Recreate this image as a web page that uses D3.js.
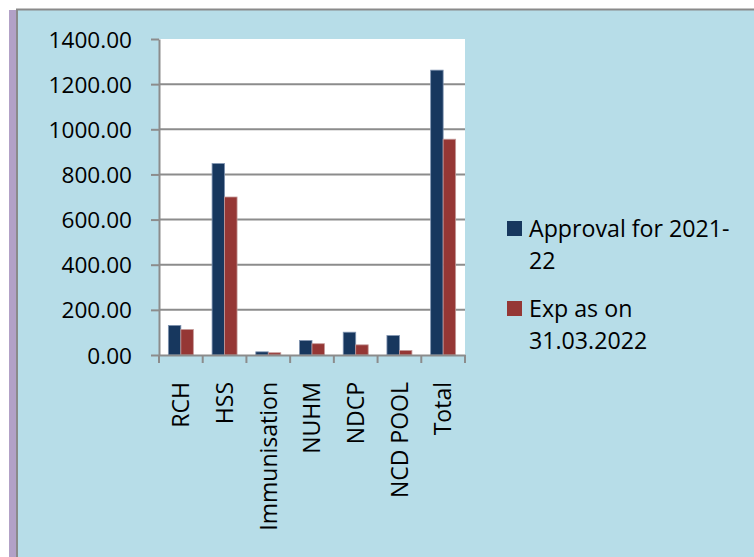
<!DOCTYPE html>
<html>
<head>
<meta charset="utf-8">
<script src="https://cdn.jsdelivr.net/npm/d3@7"></script>
<style>
  html, body { margin: 0; padding: 0; background: #fff; }
  svg { display: block; font-family: "Open Sans", sans-serif; }
</style>
</head>
<body>
<div id="chart"></div>
<script>
(() => {
const categories = ['RCH', 'HSS', 'Immunisation', 'NUHM', 'NDCP', 'NCD POOL', 'Total'];
const approval = [131, 848, 14, 64, 101, 86, 1262];
const expenditure = [113, 700, 10, 50, 45, 20, 956];
const seriesNames = [['Approval for 2021-', '22'], ['Exp as on', '31.03.2022']];
const seriesColors = ['#17375e', '#953735'];
const yTicks = [0, 200, 400, 600, 800, 1000, 1200, 1400];

const width = 754;
const height = 557;
const plot = { left: 159, right: 465, top: 39, bottom: 355 };

const svg = d3.select('#chart')
    .append('svg')
    .attr('width', width)
    .attr('height', height);

// page frame
svg.append('rect').attr('x', 0).attr('y', 0).attr('width', width).attr('height', height).attr('fill', '#fff');
svg.append('rect').attr('x', 17).attr('y', 10).attr('width', width - 17).attr('height', height - 10).attr('fill', '#b7dde8');
svg.append('rect').attr('x', 9).attr('y', 10).attr('width', 7).attr('height', height - 10).attr('fill', '#b2a1c7');
svg.append('line').attr('x1', 17).attr('x2', 17).attr('y1', 9).attr('y2', height).attr('stroke', '#8a8a8a').attr('stroke-width', 2);
svg.append('line').attr('x1', 16).attr('x2', width).attr('y1', 9.5).attr('y2', 9.5).attr('stroke', '#8a8a8a').attr('stroke-width', 2);

svg.append('rect')
    .attr('x', plot.left).attr('y', plot.top)
    .attr('width', plot.right - plot.left).attr('height', plot.bottom - plot.top)
    .attr('fill', '#fff');

const x = d3.scaleBand().domain(categories).range([plot.left, plot.right]).paddingInner(0).paddingOuter(0);
const inner = d3.scaleBand().domain([0, 1]).range([0, x.bandwidth()]).paddingOuter(0.75).paddingInner(0);
const y = d3.scaleLinear().domain([0, 1400]).range([plot.bottom, plot.top]);

// gridlines
svg.append('g')
    .selectAll('line')
    .data(yTicks.filter(t => t > 0 && t < 1400))
    .enter()
    .append('line')
    .attr('x1', plot.left).attr('x2', plot.right)
    .attr('y1', d => y(d)).attr('y2', d => y(d))
    .attr('stroke', '#8c8c8c')
    .attr('stroke-width', 2);

// bars
const groups = svg.append('g')
    .selectAll('g')
    .data(categories.map((c, i) => ({ c, vals: [approval[i], expenditure[i]] })))
    .enter()
    .append('g')
    .attr('transform', d => `translate(${x(d.c)},0)`);

groups.selectAll('rect')
    .data(d => d.vals.map((v, k) => ({ v, k })))
    .enter()
    .append('rect')
    .attr('x', d => inner(d.k))
    .attr('y', d => y(d.v))
    .attr('width', inner.bandwidth())
    .attr('height', d => y(0) - y(d.v))
    .attr('fill', d => seriesColors[d.k])
    .attr('stroke', d => d.k === 0 ? '#7f93b0' : '#c59a99')
    .attr('stroke-width', 0.8);

// y axis
const yAxis = svg.append('g')
    .attr('transform', `translate(${plot.left},0)`)
    .call(d3.axisLeft(y).tickValues(yTicks).tickFormat(d3.format('.2f')).tickSize(8).tickSizeOuter(0).tickPadding(19));
yAxis.select('.domain').attr('stroke', '#8c8c8c').attr('stroke-width', 2);
yAxis.selectAll('.tick line').attr('stroke', '#8c8c8c').attr('stroke-width', 2);
yAxis.selectAll('.tick text').attr('font-size', 22.6).attr('fill', '#000').attr('font-family', '"Open Sans", sans-serif').attr('dy', '0.36em');

// x axis
const xAxis = svg.append('g')
    .attr('transform', `translate(0,${plot.bottom})`)
    .call(d3.axisBottom(x).tickSize(0).tickSizeOuter(0).tickPadding(0));
xAxis.select('.domain').attr('stroke', '#8c8c8c').attr('stroke-width', 2);
xAxis.selectAll('.tick text')
    .attr('font-size', 23)
    .attr('fill', '#000')
    .attr('font-family', '"Open Sans", sans-serif')
    .attr('transform', 'rotate(-90)')
    .attr('text-anchor', 'end')
    .attr('x', -27)
    .attr('y', 0)
    .attr('dy', '0.36em');

// category separator ticks
xAxis.append('g')
    .selectAll('line')
    .data(categories.concat(['__end']))
    .enter()
    .append('line')
    .attr('x1', (d, i) => i < categories.length ? x(d) : plot.right)
    .attr('x2', (d, i) => i < categories.length ? x(d) : plot.right)
    .attr('y1', 0).attr('y2', 8)
    .attr('stroke', '#8c8c8c')
    .attr('stroke-width', 2);

// legend
const legend = svg.append('g');
const legendY = [221, 301];
seriesNames.forEach((lines, k) => {
    legend.append('rect')
        .attr('x', 507).attr('y', legendY[k])
        .attr('width', 15).attr('height', 15)
        .attr('fill', seriesColors[k]);
    const t = legend.append('text')
        .attr('x', 529)
        .attr('y', legendY[k] + 16)
        .attr('font-size', 23.2)
        .attr('fill', '#000');
    lines.forEach((ln, j) => {
        t.append('tspan').attr('x', 529).attr('dy', j === 0 ? 0 : 31.5).text(ln);
    });
});
})();
</script>
</body>
</html>
